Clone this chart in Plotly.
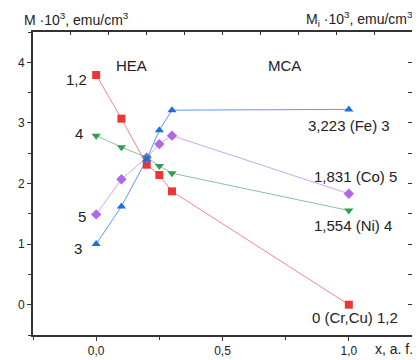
import plotly.graph_objects as go

x_vals = [0.0, 0.1, 0.2, 0.25, 0.3, 1.0]
s12 = [3.79, 3.07, 2.31, 2.14, 1.87, 0.0]      # 1,2 (Cr,Cu)
s3 = [1.0, 1.62, 2.40, 2.88, 3.21, 3.223]      # 3 (Fe)
s4 = [2.79, 2.60, 2.43, 2.29, 2.17, 1.554]     # 4 (Ni)
s5 = [1.49, 2.07, 2.43, 2.65, 2.79, 1.831]     # 5 (Co)

series = [
    ("1,2", s12, "square", "#ee3535", "rgba(238,53,53,0.6)"),
    ("5", s5, "diamond", "#b068e8", "rgba(176,104,232,0.6)"),
    ("4", s4, "triangle-down", "#2e9e55", "rgba(46,158,85,0.6)"),
    ("3", s3, "triangle-up", "#1a6fe8", "rgba(26,111,232,0.7)"),
]

fig = go.Figure()
for name, ys, sym, mc, lc in series:
    fig.add_trace(go.Scatter(x=x_vals, y=ys, mode="lines+markers", name=name,
                             line=dict(color=lc, width=1),
                             marker=dict(symbol=sym, size=8, color=mc),
                             showlegend=False))
fig.add_trace(go.Scatter(x=[None], y=[None], xaxis="x2", yaxis="y2", showlegend=False))

font = "Liberation Sans, Arial, sans-serif"
top_ticks = [-0.1, 0.05, 0.2, 0.35, 0.5, 0.65, 0.8, 0.95, 1.1]
axcol = "#333333"

fig.update_layout(
    width=412, height=352,
    margin=dict(l=25, r=8, t=24, b=25),
    paper_bgcolor="white", plot_bgcolor="white",
    separators=",.",
    font=dict(family=font, size=12, color="#222"),
    xaxis=dict(range=[-0.25, 1.25], tickvals=[0, 0.5, 1.0], tickformat=".1f",
               ticks="outside", ticklen=4, tickcolor=axcol, showgrid=False, zeroline=False,
               showline=True, linecolor=axcol, linewidth=2, automargin=False,
               minor=dict(tickvals=[-0.25, 0.25, 0.75, 1.25], ticks="outside", ticklen=3, tickcolor=axcol),
               tickfont=dict(size=12)),
    yaxis=dict(range=[-0.5, 4.5], tickvals=[0, 1, 2, 3, 4], ticks="outside", ticklen=4,
               tickcolor=axcol, showgrid=False, zeroline=False,
               showline=True, linecolor=axcol, linewidth=2, automargin=False,
               minor=dict(tickvals=[-0.5, 0.5, 1.5, 2.5, 3.5, 4.5], ticks="outside", ticklen=3, tickcolor=axcol),
               tickfont=dict(size=12)),
    xaxis2=dict(range=[-0.25, 1.25], overlaying="x", side="top", anchor="y2",
                tickvals=top_ticks, ticks="inside", ticklen=3, tickcolor=axcol,
                showticklabels=False, showgrid=False, zeroline=False,
                showline=True, linecolor=axcol, linewidth=2, automargin=False),
    yaxis2=dict(range=[-0.5, 4.5], overlaying="y", side="right", anchor="x2",
                dtick=0.5, tick0=0, ticks="inside", ticklen=4, tickcolor=axcol,
                showticklabels=False, showgrid=False, zeroline=False,
                showline=True, linecolor=axcol, linewidth=2, automargin=False),
)

ann_font = dict(family=font, size=15, color="#222")
labels = [
    ("1,2", -0.03, 3.72, "right"),
    ("4", -0.043, 2.83, "right"),
    ("5", -0.033, 1.46, "right"),
    ("3", -0.047, 0.93, "right"),
    ("3,223 (Fe) 3", 1.0, 2.96, "center"),
    ("1,831 (Co) 5", 1.026, 2.11, "center"),
    ("1,554 (Ni) 4", 1.015, 1.31, "center"),
    ("0 (Cr,Cu) 1,2", 1.023, -0.21, "center"),
    ("HEA", 0.14, 3.955, "center"),
    ("MCA", 0.745, 3.955, "center"),
]
for t, xx, yy, xa in labels:
    fig.add_annotation(text=t, x=xx, y=yy, xref="x", yref="y", showarrow=False,
                       xanchor=xa, yanchor="middle", font=ann_font)

fig.add_annotation(text="M ·10<sup>3</sup>, emu/cm<sup>3</sup>", x=-0.029, y=1.043,
                   xref="paper", yref="paper", showarrow=False, xanchor="left",
                   yanchor="middle", font=dict(family=font, size=14, color="#222"))
fig.add_annotation(text="M<sub>i</sub> ·10<sup>3</sup>, emu/cm<sup>3</sup>", x=1.008, y=1.043,
                   xref="paper", yref="paper", showarrow=False, xanchor="right",
                   yanchor="middle", font=dict(family=font, size=14, color="#222"))
fig.add_annotation(text="x, a. f.", x=0.897, y=-0.046, xref="paper", yref="paper",
                   showarrow=False, xanchor="left", yanchor="middle",
                   font=dict(family=font, size=14, color="#222"))

fig.write_html("out.html")
